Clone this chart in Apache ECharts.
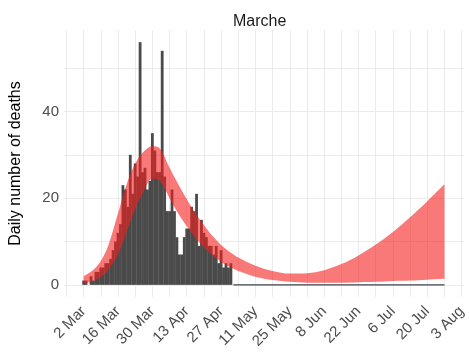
<!DOCTYPE html>
<html>
<head>
<meta charset="utf-8">
<script src="https://cdn.jsdelivr.net/npm/echarts@6/dist/echarts.min.js"></script>
<style>
  html, body { margin: 0; padding: 0; background: #fff; }
  #chart { width: 469px; height: 352px; }
</style>
</head>
<body>
<div id="chart"></div>
<script>
const regionName = 'Marche'
const yAxisTitle = 'Daily number of deaths'

// x is counted in days after 2 Mar
const firstDay = -8
const lastDay = 155
const xTickLabels = ['2 Mar', '16 Mar', '30 Mar', '13 Apr', '27 Apr', '11 May', '25 May', '8 Jun', '22 Jun', '6 Jul', '20 Jul', '3 Aug']
const yTickLabels = [0, 20, 40]

// observed daily deaths, 2 Mar .. 1 May
const dailyDeaths = [
  1, 1, 0, 2, 1, 3, 3, 4, 4, 5,
  5, 6, 8, 10, 12, 14, 23, 22, 18, 30,
  21, 28, 25, 56, 26, 27, 22, 24, 35, 31,
  26, 26, 54, 25, 17, 17, 22, 17, 11, 7,
  7, 11, 13, 13, 18, 17, 21, 9, 15, 12,
  11, 9, 9, 7, 9, 5, 8, 4, 5, 4,
  5
]
// no deaths after that, up to the end of the projection
const flatDays = [61, 147]
const flatDeaths = [0, 0]

// model band
const bandDays = [0, 4, 7, 10, 14, 18, 21, 24, 28, 31, 35, 38, 42, 45, 49, 52, 56, 60, 63, 70, 77, 84, 91, 98, 105, 112, 119, 126, 133, 140, 147]
const bandLow = [0.3, 0.9, 1.8, 3.4, 7, 13, 17.5, 21, 24.5, 24, 20, 17, 13.5, 11.2, 8.6, 7.0, 5.3, 4.0, 3.2, 1.9, 1.1, 0.7, 0.5, 0.5, 0.5, 0.6, 0.7, 0.9, 1.0, 1.2, 1.4]
const bandHigh = [2, 3.5, 5.5, 9, 16.5, 24, 28, 30.5, 32, 31.5, 27, 23.8, 19.8, 17, 13.8, 11.6, 9.2, 7.4, 6.3, 4.4, 3.2, 2.6, 2.7, 3.4, 4.8, 6.8, 9.3, 12.2, 15.6, 19.3, 23.2]

const dayCategories = []
for (let d = firstDay; d <= lastDay; d++) {
  dayCategories.push(String(d))
}

const fontFamily = '"Liberation Sans", Arial, sans-serif'
const gridColor = '#ebebeb'

const chart = echarts.init(document.getElementById('chart'))

chart.setOption({
  animation: false,
  title: {
    text: regionName,
    left: 228,
    top: 9,
    textStyle: { fontFamily, fontSize: 16, fontWeight: 'normal', color: '#1a1a1a' }
  },
  grid: {
    left: 50.6,
    right: 2.4,
    top: 30,
    bottom: 55
  },
  xAxis: {
    type: 'category',
    data: dayCategories,
    boundaryGap: false,
    axisLine: { show: false, onZero: false },
    axisTick: { show: false },
    axisLabel: {
      interval: (i, v) => Number(v) >= 0 && Number(v) % 14 === 0,
      formatter: v => xTickLabels[Number(v) / 14] || '',
      rotate: 45,
      margin: 12,
      fontFamily,
      fontSize: 15,
      color: '#4d4d4d'
    },
    splitLine: {
      show: true,
      interval: (i, v) => Number(v) % 7 === 0,
      lineStyle: { color: gridColor, width: 1 }
    }
  },
  yAxis: {
    type: 'value',
    min: -2.8,
    max: 58.8,
    name: yAxisTitle,
    nameLocation: 'middle',
    nameRotate: 90,
    nameGap: 40,
    nameTextStyle: { fontFamily, fontSize: 16, color: '#000' },
    axisLine: { show: false },
    axisTick: { show: false },
    axisLabel: {
      formatter: v => (yTickLabels.includes(v) ? String(v) : ''),
      margin: 5,
      fontFamily,
      fontSize: 15,
      color: '#4d4d4d'
    },
    splitLine: {
      showMinLine: false,
      showMaxLine: false,
      lineStyle: { color: gridColor, width: 1 }
    }
  },
  series: [
    {
      name: 'deaths',
      type: 'bar',
      barWidth: 2.8,
      data: dailyDeaths.map((v, i) => [String(i), v]),
      itemStyle: { color: '#4a4a4a' },
      z: 2
    },
    {
      name: 'after',
      type: 'line',
      data: flatDays.map((d, i) => [String(d), flatDeaths[i]]),
      symbol: 'none',
      lineStyle: { color: '#3f454a', width: 1.3 },
      z: 2
    },
    {
      name: 'low',
      type: 'line',
      stack: 'band',
      smooth: 0.35,
      symbol: 'none',
      data: bandDays.map((d, i) => [String(d), bandLow[i]]),
      lineStyle: { width: 0, opacity: 0 },
      z: 3
    },
    {
      name: 'band',
      type: 'line',
      stack: 'band',
      smooth: 0.35,
      symbol: 'none',
      data: bandDays.map((d, i) => [String(d), bandHigh[i] - bandLow[i]]),
      lineStyle: { width: 0, opacity: 0 },
      areaStyle: { color: 'rgba(245, 30, 30, 0.6)', opacity: 1 },
      z: 3
    }
  ]
})
</script>
</body>
</html>
